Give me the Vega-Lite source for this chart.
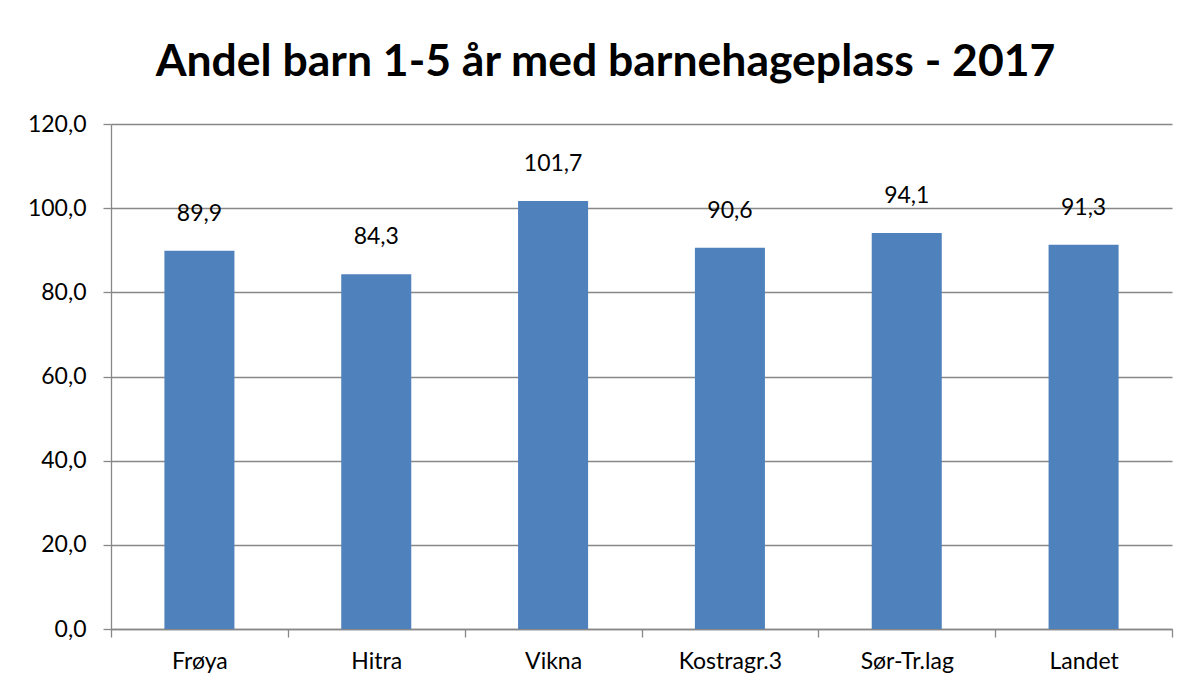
{
  "$schema": "https://vega.github.io/schema/vega-lite/v6.json",
  "autosize": {"type": "none"},
  "width": 1061,
  "height": 505,
  "padding": {"left": 111, "top": 124, "right": 17, "bottom": 60},
  "background": "white",
  "title": {
    "text": "Andel barn 1-5 år med barnehageplass - 2017",
    "font": "Lato",
    "fontSize": 44.5,
    "fontWeight": "bold",
    "color": "black",
    "anchor": "middle",
    "dx": -36,
    "offset": 28
  },
  "config": {
    "locale": {"number": {"decimal": ",", "thousands": " ", "grouping": [3], "currency": ["", " kr"]}},
    "view": {"stroke": null},
    "axis": {"labelFont": "Lato", "labelFontSize": 23, "labelColor": "black", "domainColor": "#888888", "tickColor": "#888888", "gridColor": "#888888", "domainWidth": 1.3, "tickWidth": 1.3, "gridWidth": 1.3}
  },
  "data": {"values": [
    {"omrade": "Frøya", "andel": 89.9},
    {"omrade": "Hitra", "andel": 84.3},
    {"omrade": "Vikna", "andel": 101.7},
    {"omrade": "Kostragr.3", "andel": 90.6},
    {"omrade": "Sør-Tr.lag", "andel": 94.1},
    {"omrade": "Landet", "andel": 91.3}
  ]},
  "encoding": {
    "x": {"field": "omrade", "type": "nominal", "sort": null,
      "scale": {"paddingInner": 0, "paddingOuter": 0},
      "axis": {"title": null, "labelAngle": 0, "tickBand": "extent", "tickSize": 8, "labelPadding": 13, "grid": false}},
    "y": {"field": "andel", "type": "quantitative",
      "scale": {"domain": [0, 120], "nice": false},
      "axis": {"title": null, "values": [0, 20, 40, 60, 80, 100, 120], "format": ".1f", "tickSize": 8, "labelPadding": 17, "grid": true}}
  },
  "layer": [
    {"mark": {"type": "bar", "color": "#4F81BD", "width": {"band": 0.396}}},
    {"mark": {"type": "text", "font": "Lato", "fontSize": 23, "color": "black", "baseline": "alphabetic", "dy": -30},
     "encoding": {"text": {"field": "andel", "type": "quantitative", "format": ".1f"}}}
  ]
}
